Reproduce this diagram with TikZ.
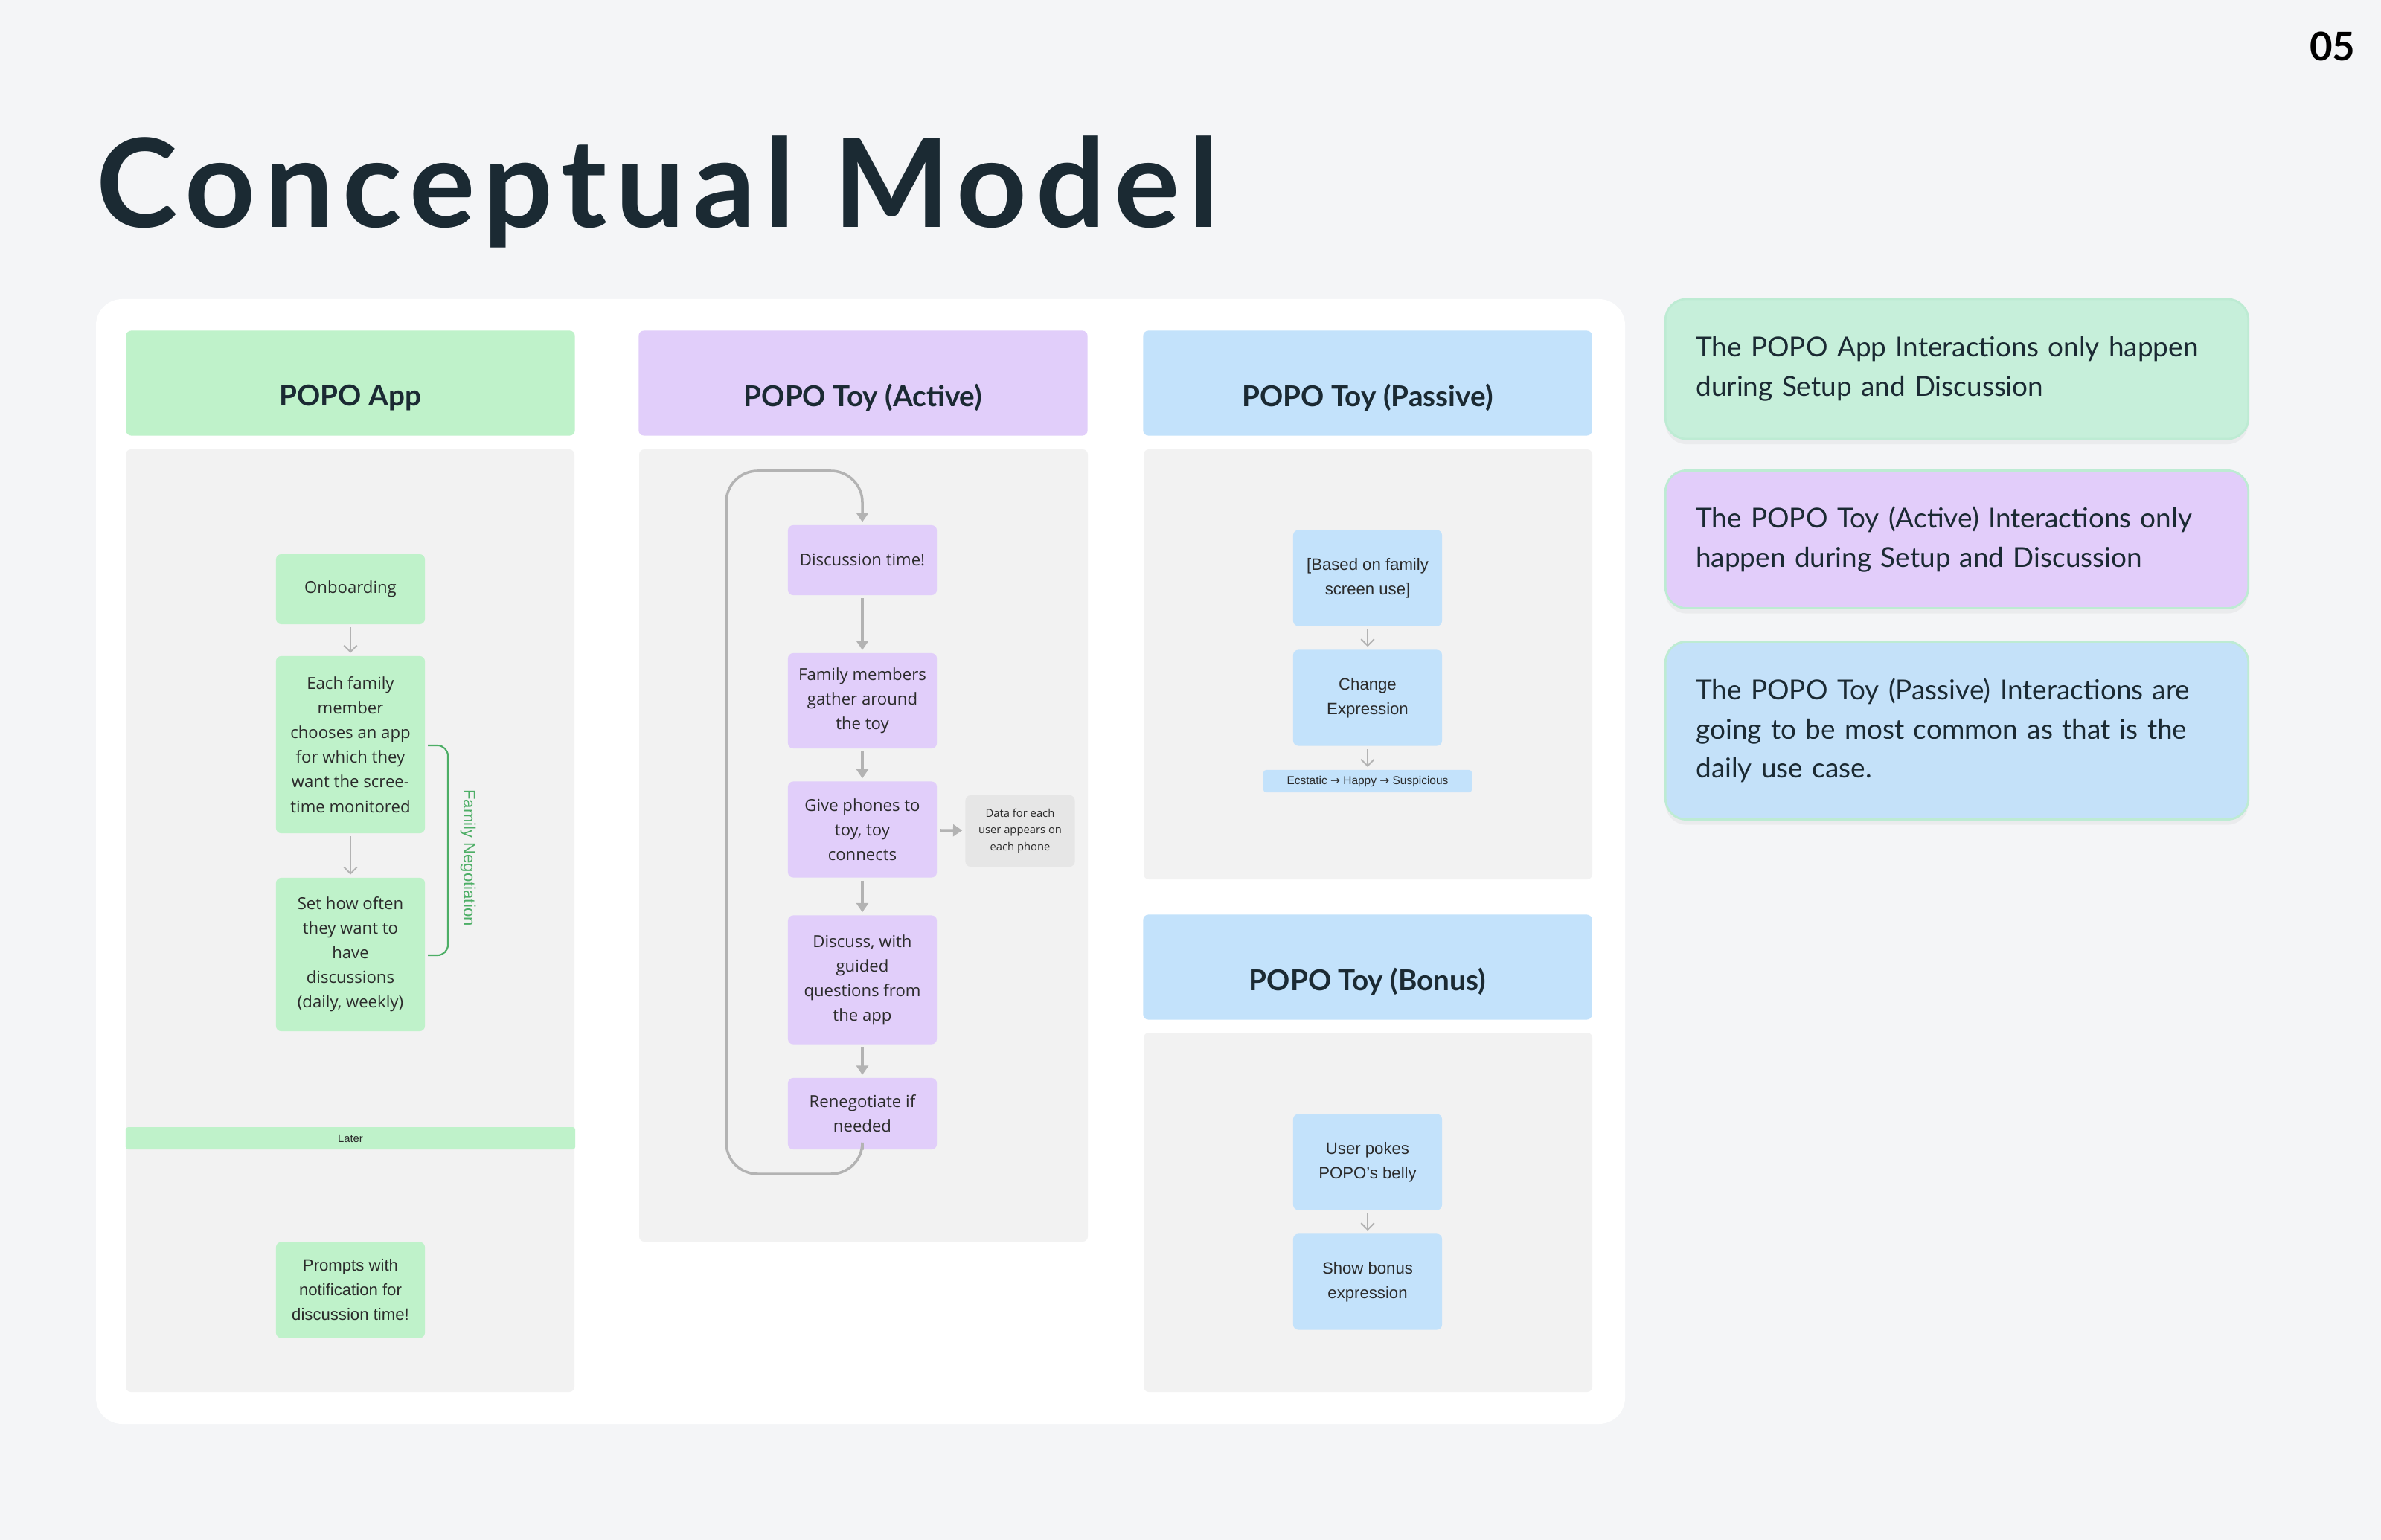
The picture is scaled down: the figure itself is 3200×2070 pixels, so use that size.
\documentclass[tikz,border=0pt]{standalone}
\usepackage{fontspec}
\setmainfont{Lato}
\newfontfamily\boxfont{Open Sans}
\newfontfamily\narrowfont{Liberation Sans}
\newfontfamily\arrowfont{DejaVu Sans}
\newfontfamily\titlefont[LetterSpace=7]{Lato}
\usepackage{xcolor}
\usetikzlibrary{arrows.meta,positioning,shadows}
\definecolor{pagebg}{HTML}{F4F5F7}
\definecolor{appgreen}{HTML}{BFF2CA}
\definecolor{toypurple}{HTML}{E1CEFA}
\definecolor{toyblue}{HTML}{C3E2FB}
\definecolor{colbody}{HTML}{F2F2F2}
\definecolor{datagray}{HTML}{E6E6E6}
\definecolor{notegreen}{HTML}{C6EFDA}
\definecolor{notepurple}{HTML}{E2CDFA}
\definecolor{noteblue}{HTML}{C4E1F9}
\definecolor{noteedge}{HTML}{BDEBD3}
\definecolor{titleink}{HTML}{1B2A33}
\definecolor{boxink}{HTML}{2B2B2B}
\definecolor{arrgray}{HTML}{B3B3B3}
\definecolor{neggreen}{HTML}{4DAE66}
\newcommand{\moodto}{ {\arrowfont →} }
\tikzset{
  hdr/.style={fill=#1,rounded corners=2pt,minimum width=6.03cm,minimum height=1.41cm,inner sep=0pt},
  hdrtext/.style={font=\bfseries\fontsize{11}{13}\selectfont,text=titleink,yshift=-0.2cm},
  flow/.style={fill=#1,rounded corners=2pt,minimum width=2cm,inner sep=0pt,align=center,text=boxink,font=\boxfont\fontsize{6.3}{9.4}\selectfont},
  slim/.style={flow=#1,font=\narrowfont\fontsize{6.3}{9.4}\selectfont},
  band/.style={fill=#1,rounded corners=1pt,minimum height=0.3cm,inner sep=0pt,text=boxink,font=\narrowfont\fontsize{4.2}{5}\selectfont},
  note/.style={fill=#1,draw=noteedge,line width=0.8pt,rounded corners=8pt,minimum width=7.83cm,text width=7.01cm,align=left,inner xsep=0.41cm,
    text=titleink,font=\fontsize{10.5}{15}\selectfont,drop shadow={shadow xshift=0pt,shadow yshift=-2pt,opacity=0.08}},
  thinarr/.style={-{Straight Barb[length=2.5pt,width=5pt]},arrgray,line width=0.55pt,shorten <=1pt,shorten >=1pt},
  fatarr/.style={-{Triangle[length=3.5pt,width=4.5pt]},arrgray,line width=1pt,shorten <=1pt,shorten >=1pt},
}
\begin{document}
\begin{tikzpicture}[x=0.01cm,y=-0.01cm]
\fill[pagebg] (0,0) rectangle (3200,2070);
\useasboundingbox (0,0) rectangle (3200,2070);
\node[anchor=base west,inner sep=0pt,text=titleink,font=\titlefont\bfseries\fontsize{47}{56}\selectfont] (ttl) at (129,306) {Conceptual Model};
\node[anchor=base east,inner sep=0pt,font=\bfseries\fontsize{15}{18}\selectfont] (pg) at (3166,82) {05};
\fill[white,rounded corners=10pt] (129,402) rectangle (2184,1914);
% column bodies
\foreach \xa/\ya/\yb in {169/604/1871,859/604/1669,1537/604/1182,1537/1388/1871}
  \fill[colbody,rounded corners=2pt] (\xa,\ya) rectangle (\xa+603,\yb);
\node[hdr=appgreen,label={[hdrtext]center:POPO App}] (hApp) at (471,515) {};
\node[hdr=toypurple,label={[hdrtext]center:POPO Toy (Active)}] (hActive) at (1160,515) {};
\node[hdr=toyblue,label={[hdrtext]center:POPO Toy (Passive)}] (hPassive) at (1838,515) {};
\node[hdr=toyblue,label={[hdrtext]center:POPO Toy (Bonus)}] (hBonus) at (1838,1300) {};
% app column
\node[flow=appgreen,minimum height=0.94cm] (onb) at (471,792) {Onboarding};
\node[flow=appgreen,minimum height=2.38cm] (pick) at (471,1001) {Each family\\member\\chooses an app\\for which they\\want the scree-\\time monitored};
\node[flow=appgreen,minimum height=2.06cm] (freq) at (471,1283) {Set how often\\they want to\\have\\discussions\\(daily, weekly)};
\node[band=appgreen,minimum width=6.04cm] (later) at (471,1530) {Later};
\node[slim=appgreen,minimum height=1.29cm] (notif) at (471,1734) {Prompts with\\notification for\\discussion time!};
\foreach \a/\b in {onb/pick,pick/freq} \draw[thinarr] (\a) -- (\b);
\coordinate (negTop) at (575,1002);
\coordinate (negBot) at (575,1284);
\draw[neggreen,line width=0.6pt,rounded corners=4pt] (negTop) -- ++(27,0) -- ++(0,282) -- (negBot);
\node[rotate=-90,text=neggreen,font=\narrowfont\fontsize{6.3}{7}\selectfont] (negLbl) at (629,1153) {Family Negotiation};
% active toy column
\node[flow=toypurple,minimum height=0.94cm] (disc) at (1159,753) {Discussion time!};
\node[flow=toypurple,minimum height=1.28cm] (gather) at (1159,942) {Family members\\gather around\\the toy};
\node[flow=toypurple,minimum height=1.29cm] (phones) at (1159,1115) {Give phones to\\toy, toy\\connects};
\node[flow=datagray,minimum width=1.47cm,minimum height=0.96cm,font=\boxfont\fontsize{4.2}{6.3}\selectfont] (data) at (1371,1117) {Data for each\\user appears on\\each phone};
\node[flow=toypurple,minimum height=1.73cm] (guided) at (1159,1317) {Discuss, with\\guided\\questions from\\the app};
\node[flow=toypurple,minimum height=0.96cm] (reneg) at (1159,1497) {Renegotiate if\\needed};
\foreach \a/\b in {disc/gather,gather/phones,phones/guided,guided/reneg,phones/data} \draw[fatarr] (\a) -- (\b);
\draw[fatarr,shorten <=0pt,rounded corners=12pt] (reneg.south) |- (976,1578) -- (976,633) -| (disc.north);
% passive toy column
\node[slim=toyblue,minimum height=1.29cm] (screen) at (1838,777) {[Based on family\\screen use]};
\node[slim=toyblue,minimum height=1.29cm] (expr) at (1838,938) {Change\\Expression};
\node[band=toyblue,minimum width=2.8cm,font=\narrowfont\fontsize{4.4}{5}\selectfont] (mood) at (1838,1050) {Ecstatic\moodto Happy\moodto Suspicious};
\foreach \a/\b in {screen/expr,expr/mood} \draw[thinarr] (\a) -- (\b);
% bonus column
\node[slim=toyblue,minimum height=1.29cm] (poke) at (1838,1562) {User pokes\\POPO’s belly};
\node[slim=toyblue,minimum height=1.29cm] (bonus) at (1838,1723) {Show bonus\\expression};
\draw[thinarr] (poke) -- (bonus);
% notes
\node[note=notegreen,minimum height=1.88cm] (nApp) at (2630,496) {The POPO App Interactions only happen\\during Setup and Discussion};
\node[note=notepurple,minimum height=1.85cm] (nActive) at (2630,725) {The POPO Toy (Active) Interactions only\\happen during Setup and Discussion};
\node[note=noteblue,minimum height=2.39cm] (nPassive) at (2630,982) {The POPO Toy (Passive) Interactions are\\going to be most common as that is the\\daily use case.};
\end{tikzpicture}
\end{document}
